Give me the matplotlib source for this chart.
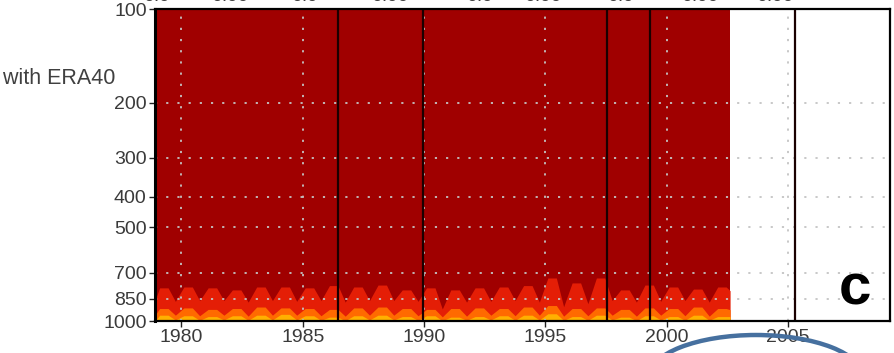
import numpy as np
import matplotlib.pyplot as plt
from matplotlib.patches import Ellipse
from matplotlib.ticker import FixedLocator, NullLocator

plt.rcParams['font.family'] = ['Liberation Sans Narrow', 'Liberation Sans', 'DejaVu Sans']

# time axis (years) and pressure levels (hPa)
t_start, t_end = 1978.91, 2002.61
x_min, x_max = 1978.91, 2009.2
x_ticks = [1980, 1985, 1990, 1995, 2000, 2005]
p_ticks = [100, 200, 300, 400, 500, 700, 850, 1000]

# seasonal layer tops near the surface: one max (spring) and one min (autumn) per year
years = np.arange(1979, 2003)
red_peak = [783, 778, 783, 795, 778, 778, 783, 770, 778, 767, 795, 783,
            795, 783, 778, 770, 728, 755, 728, 795, 767, 778, 790, 778]
red_trough = [865, 860, 860, 870, 860, 865, 860, 870, 860, 860, 865, 915,
              870, 865, 860, 870, 900, 880, 860, 870, 865, 860, 870]
orange_peak = [912, 908, 918, 912, 902, 908, 912, 918, 908, 902, 912, 918,
               912, 908, 912, 902, 892, 912, 908, 918, 908, 912, 902, 912]
orange_trough = [958, 962, 958, 965, 958, 958, 962, 965, 958, 958, 962, 970,
                 965, 958, 962, 958, 965, 962, 958, 965, 958, 962, 965]
yellow_peak = [958, 962, 968, 962, 958, 952, 962, 972, 962, 958, 968, 962,
               972, 968, 962, 958, 948, 968, 958, 972, 962, 968, 958, 968]
yellow_trough = [992, 995, 992, 995, 992, 992, 995, 998, 992, 992, 995, 998,
                 995, 992, 995, 992, 995, 995, 992, 998, 992, 995, 995]

# vertical markers
events = [1986.45, 1989.95, 1997.54, 1999.31, 2005.28]

top_labels = ['0.9', '0.99', '0.9', '0.99', '0.9', '0.99', '0.9', '0.99', '0.99']
top_label_x = [157, 230, 305, 390, 480, 543, 621, 700, 775]


def layer(peaks, troughs, first, last):
    # flat-topped spring maximum, narrow autumn minimum
    t = [t_start]
    v = [first]
    for i, yr in enumerate(years):
        t += [yr + 0.1, yr + 0.45]
        v += [peaks[i], peaks[i]]
        if i < len(troughs):
            t.append(yr + 0.75)
            v.append(troughs[i])
    t.append(t_end)
    v.append(last)
    return np.array(t), np.array(v)


fig = plt.figure(figsize=(8.94, 3.53), dpi=100)
ax = fig.add_axes([155 / 894, 1 - 321 / 353, 735 / 894, 312 / 353])

ax.fill_between([t_start, t_end], 100, 1000, color='#a00000', lw=0, zorder=1)
t, v = layer(red_peak, red_trough, 860, 800)
ax.fill_between(t, v, 1000, color='#e41e06', lw=0, zorder=2)
t, v = layer(orange_peak, orange_trough, 958, 920)
ax.fill_between(t, v, 1000, color='#ff6a00', lw=0, zorder=3)
t, v = layer(yellow_peak, yellow_trough, 1000, 968)
ax.fill_between(t, v, 1000, color='#ffb000', lw=0, zorder=4)

ax.set_yscale('log')
ax.set_ylim(1000, 100)
ax.set_xlim(x_min, x_max)
ax.yaxis.set_major_locator(FixedLocator(p_ticks))
ax.yaxis.set_minor_locator(NullLocator())
ax.set_yticklabels([str(p) for p in p_ticks])
ax.set_xticks(x_ticks)
ax.set_xticklabels([str(x) for x in x_ticks])

for x in x_ticks:
    ax.axvline(x, color='#c4c4c4', lw=1.3, ls=(0, (1.2, 5)), zorder=5)
for p in p_ticks[1:-1]:
    ax.axhline(p, color='#c4c4c4', lw=1.3, ls=(0, (1.2, 5)), zorder=5)
for e in events:
    ax.axvline(e, color='#1a0000', lw=1.6, zorder=6)

ax.tick_params(direction='out', length=4, width=1, colors='#222222',
               labelcolor='#3a3a3a', labelsize=14, pad=2)
for side, s in ax.spines.items():
    s.set_color('black')
    s.set_linewidth(2.2 if side == 'left' else 1.6)
    s.set_zorder(7)

ax.text(0.975, 0.10, 'c', transform=ax.transAxes, fontsize=42, fontweight='bold',
        family='Liberation Sans', ha='right', va='center', color='black', zorder=8)

fig.text(115 / 894, 1 - 78 / 353, 'Correlation with ERA40', ha='right', va='center',
         fontsize=15.5, color='#404040')
for lbl, x in zip(top_labels, top_label_x):
    fig.text(x / 894, 1 + 3.5 / 353, lbl, ha='center', va='center',
             fontsize=14, color='#404040')

# blue ring drawn over the lower edge
ring = Ellipse((756 / 894, 1 - 377 / 353), 214 / 894, 84 / 353,
               transform=fig.transFigure, fill=False, ec='#46709f', lw=3.2,
               clip_on=False)
fig.patches.append(ring)

fig.savefig('out.png', dpi=100)
